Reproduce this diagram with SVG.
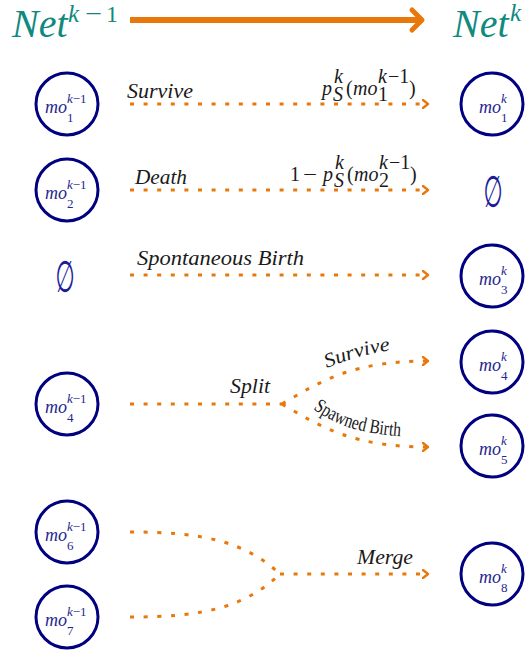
<svg xmlns="http://www.w3.org/2000/svg" width="531" height="656" viewBox="0 0 531 656" font-family="Liberation Serif, DejaVu Serif, Times New Roman, serif">
  <style>
    .title{font-style:italic;fill:#10897f}
    .t{font-style:italic;fill:#1a1a1a;font-size:20px}
    .up{font-style:normal}
    .node circle{fill:none;stroke:#000080;stroke-width:3}
    .lbl{font-style:italic;fill:#26268f}
    .mo{font-size:18px}
    .s{font-size:13px}
    .empty{font-family:"DejaVu Sans",sans-serif;font-size:44px;fill:#1c1c99}
    .flow{fill:none;stroke:#e8780c;stroke-width:3;stroke-dasharray:4 9.6}
    .head{marker-end:url(#chev)}
  </style>
  <defs>
    <marker id="chev" viewBox="0 0 8 10" refX="6" refY="5" markerWidth="8" markerHeight="10" markerUnits="userSpaceOnUse" orient="auto">
      <path d="M1,1 L6,5 L1,9" fill="none" stroke="#e8780c" stroke-width="2.4" stroke-linecap="round" stroke-linejoin="round"/>
    </marker>
    <path id="pSurvive" d="M327,368 C 345,361 368,352 397,350"/>
    <path id="pSpawn" d="M313,409 C 335,424 355,434 412,437"/>
  </defs>

  <!-- header: Net^{k-1} -> Net^k -->
  <g id="header">
    <text class="title" x="12" y="37" font-size="40">Net</text>
    <text class="title" x="68" y="22" font-size="25">k</text>
    <text class="title up" x="85" y="22" font-size="25" textLength="17" lengthAdjust="spacingAndGlyphs">−</text>
    <text class="title up" x="106" y="22" font-size="24">1</text>
    <line x1="130" y1="20" x2="420" y2="20" stroke="#e8780c" stroke-width="6"/>
    <path d="M412,10 L422,20 L412,30" fill="none" stroke="#e8780c" stroke-width="5" stroke-linecap="round" stroke-linejoin="round"/>
    <text class="title" x="453" y="37" font-size="40">Net</text>
    <text class="title" x="510" y="21" font-size="25">k</text>
  </g>

  <!-- nodes at step k-1 -->
  <g id="mo1_prev" class="node">
    <circle cx="67" cy="104" r="31"/>
    <text class="lbl mo" x="45" y="113">mo</text>
    <text class="lbl s" x="67" y="122"><tspan class="up">1</tspan></text>
    <text class="lbl s" x="67" y="103">k<tspan class="up">−1</tspan></text>
  </g>
  <g id="mo2_prev" class="node">
    <circle cx="67" cy="190" r="31"/>
    <text class="lbl mo" x="45" y="199">mo</text>
    <text class="lbl s" x="67" y="208"><tspan class="up">2</tspan></text>
    <text class="lbl s" x="67" y="189">k<tspan class="up">−1</tspan></text>
  </g>
  <g id="empty_prev">
    <text class="empty" transform="translate(65,277) scale(0.5,1)" text-anchor="middle" y="15">∅</text>
  </g>
  <g id="mo4_prev" class="node">
    <circle cx="67" cy="404" r="31"/>
    <text class="lbl mo" x="45" y="413">mo</text>
    <text class="lbl s" x="67" y="422"><tspan class="up">4</tspan></text>
    <text class="lbl s" x="67" y="403">k<tspan class="up">−1</tspan></text>
  </g>
  <g id="mo6_prev" class="node">
    <circle cx="67" cy="532" r="31"/>
    <text class="lbl mo" x="45" y="541">mo</text>
    <text class="lbl s" x="67" y="550"><tspan class="up">6</tspan></text>
    <text class="lbl s" x="67" y="531">k<tspan class="up">−1</tspan></text>
  </g>
  <g id="mo7_prev" class="node">
    <circle cx="67" cy="617" r="31"/>
    <text class="lbl mo" x="45" y="626">mo</text>
    <text class="lbl s" x="67" y="635"><tspan class="up">7</tspan></text>
    <text class="lbl s" x="67" y="616">k<tspan class="up">−1</tspan></text>
  </g>

  <!-- nodes at step k -->
  <g id="mo1_next" class="node">
    <circle cx="492" cy="104" r="31"/>
    <text class="lbl mo" x="479" y="113">mo</text>
    <text class="lbl s" x="501" y="122"><tspan class="up">1</tspan></text>
    <text class="lbl s" x="501" y="103">k</text>
  </g>
  <g id="empty_next">
    <text class="empty" transform="translate(493,192) scale(0.5,1)" text-anchor="middle" y="15">∅</text>
  </g>
  <g id="mo3_next" class="node">
    <circle cx="492" cy="276" r="31"/>
    <text class="lbl mo" x="479" y="285">mo</text>
    <text class="lbl s" x="501" y="294"><tspan class="up">3</tspan></text>
    <text class="lbl s" x="501" y="275">k</text>
  </g>
  <g id="mo4_next" class="node">
    <circle cx="492" cy="362" r="31"/>
    <text class="lbl mo" x="479" y="371">mo</text>
    <text class="lbl s" x="501" y="380"><tspan class="up">4</tspan></text>
    <text class="lbl s" x="501" y="361">k</text>
  </g>
  <g id="mo5_next" class="node">
    <circle cx="492" cy="446" r="31"/>
    <text class="lbl mo" x="479" y="455">mo</text>
    <text class="lbl s" x="501" y="464"><tspan class="up">5</tspan></text>
    <text class="lbl s" x="501" y="445">k</text>
  </g>
  <g id="mo8_next" class="node">
    <circle cx="492" cy="574" r="31"/>
    <text class="lbl mo" x="479" y="583">mo</text>
    <text class="lbl s" x="501" y="592"><tspan class="up">8</tspan></text>
    <text class="lbl s" x="501" y="573">k</text>
  </g>

  <!-- transitions -->
  <g id="connectors">
    <path class="flow head" d="M130,104 L428,104"/>
    <path class="flow head" d="M130,190 L428,190"/>
    <path class="flow head" d="M130,275 L428,275"/>
    <path class="flow" d="M130,404 L282,404"/>
    <path class="flow head" d="M282,404 C 322,380 355,361 428,361"/>
    <path class="flow head" d="M282,404 C 322,428 355,447 428,447"/>
    <path class="flow" d="M130,532 C 205,532 245,542 280,574"/>
    <path class="flow" d="M130,617 C 205,617 245,607 280,574"/>
    <path class="flow head" d="M280,574 L428,574"/>
  </g>

  <!-- transition labels -->
  <g id="labels">
    <text class="t" x="127" y="98" textLength="66" lengthAdjust="spacingAndGlyphs">Survive</text>
    <text class="t" x="322" y="95">p</text>
    <text class="t" x="333" y="101" font-size="14">S</text>
    <text class="t" x="334" y="83" font-size="14">k</text>
    <text class="t up" x="346" y="95">(</text>
    <text class="t" x="353" y="95">mo</text>
    <text class="t up" x="378" y="101" font-size="14">1</text>
    <text class="t" x="378" y="83" font-size="13">k<tspan class="up" dx="1">−1</tspan></text>
    <text class="t up" x="409" y="95">)</text>

    <text class="t" x="135" y="184" textLength="52" lengthAdjust="spacingAndGlyphs">Death</text>
    <text class="t up" x="290" y="181">1</text>
    <text class="t up" x="303" y="181" textLength="14" lengthAdjust="spacingAndGlyphs">−</text>
    <text class="t" x="323" y="181">p</text>
    <text class="t" x="334" y="187" font-size="14">S</text>
    <text class="t" x="335" y="169" font-size="14">k</text>
    <text class="t up" x="347" y="181">(</text>
    <text class="t" x="354" y="181">mo</text>
    <text class="t up" x="379" y="187" font-size="14">2</text>
    <text class="t" x="379" y="169" font-size="13">k<tspan class="up" dx="1">−1</tspan></text>
    <text class="t up" x="410" y="181">)</text>

    <text class="t" x="137" y="265" textLength="167" lengthAdjust="spacingAndGlyphs">Spontaneous Birth</text>
    <text class="t" x="230" y="393" textLength="40" lengthAdjust="spacingAndGlyphs">Split</text>
    <text class="t"><textPath href="#pSurvive" textLength="66" lengthAdjust="spacingAndGlyphs">Survive</textPath></text>
    <text class="t up" font-size="15"><textPath href="#pSpawn" textLength="93" lengthAdjust="spacingAndGlyphs">Spawned Birth</textPath></text>
    <text class="t" x="357" y="564" textLength="56" lengthAdjust="spacingAndGlyphs">Merge</text>
  </g>
</svg>
